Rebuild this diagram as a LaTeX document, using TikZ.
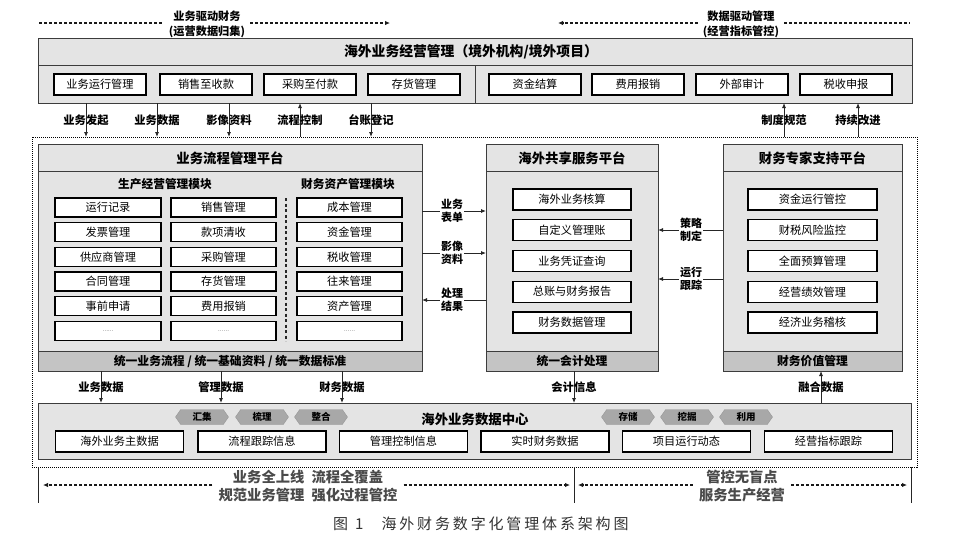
\documentclass[tikz,border=0pt]{standalone}
\usepackage{fontspec}
\setmainfont{Noto Sans CJK SC}
\usetikzlibrary{arrows.meta,shapes.symbols}
\definecolor{boxfill}{HTML}{E4E4E4}
\definecolor{bandfill}{HTML}{C4C4C4}
\definecolor{hexfill}{HTML}{A8A8A8}
\definecolor{framec}{HTML}{3C3C3C}
\definecolor{slogan}{HTML}{4A4A4A}
\definecolor{capc}{HTML}{333333}
\tikzset{
  frame/.style={draw=framec, line width=1pt, fill=boxfill, inner sep=0pt, outer sep=0pt},
  band/.style={draw=framec, line width=1pt, fill=bandfill, inner sep=0pt, outer sep=0pt, font=\fontsize{11.8}{13}\selectfont\bfseries},
  itembox/.style={draw=black, line width=1.3pt, fill=white, inner sep=0pt, font=\fontsize{11.2}{12}\selectfont},
  ptitle/.style={font=\fontsize{13.4}{15}\selectfont\bfseries, inner sep=0pt},
  subhead/.style={font=\fontsize{11.7}{13}\selectfont\bfseries, inner sep=0pt},
  lbl/.style={font=\fontsize{11.3}{12}\selectfont\bfseries, inner sep=1pt},
  slbl/.style={font=\fontsize{11}{13}\selectfont\bfseries, inner sep=1pt, align=center, fill=white},
  toplbl/.style={font=\fontsize{11.2}{15}\selectfont\bfseries, inner sep=5pt, align=center},
  slog/.style={font=\fontsize{14.3}{18}\selectfont\bfseries, text=slogan, inner sep=6pt, align=center},
  arr/.style={draw=black!85, line width=0.8pt, -{Latex[length=5pt,width=4pt]}},
  plainln/.style={draw=black!85, line width=0.8pt},
  dsh/.style={draw=black!90, line width=1.3pt, dash pattern=on 3pt off 2pt},
  dsharr/.style={dsh, -{Latex[length=5pt,width=4.5pt]}},
  dotframe/.style={draw=black, line width=1pt, dash pattern=on 1pt off 1pt, inner sep=0pt, outer sep=0pt},
  hexa/.style={shape=signal, signal to=east and west, signal pointer angle=110, fill=hexfill, draw=hexfill!90!black, line width=0.4pt, minimum width=53pt, minimum height=15pt, inner sep=0pt, font=\fontsize{9.5}{10}\selectfont\bfseries},
  sepln/.style={draw=framec, line width=1pt},
}
\begin{document}
\begin{tikzpicture}[x=1pt,y=-1pt]
\useasboundingbox (0,0) rectangle (953,552);

% ---------- top dashed headers ----------
\node[toplbl] (drvL) at (207,24) {业务驱动财务\\(运营数据归集)};
\coordinate (dL1) at (39,23);
\coordinate (dL2) at (390,23);
\draw[dsh] (dL1) -- (drvL.west |- dL1);
\draw[dsharr] (drvL.east |- dL1) -- (dL2);

\node[toplbl] (drvR) at (741,24) {数据驱动管理\\(经营指标管控)};
\coordinate (dR1) at (558,23);
\coordinate (dR2) at (910,23);
\draw[dsharr] (drvR.west |- dR1) -- (dR1);
\draw[dsh] (drvR.east |- dR1) -- (dR2);

% ---------- top management box ----------
\node[frame, anchor=north west, minimum width=874, minimum height=65] (top) at (38,38) {};
\coordinate (tline) at (475,65);
\draw[sepln] (top.west |- tline) -- (top.east |- tline);
\draw[sepln] (tline) -- (tline |- top.south);
\node[ptitle, font=\fontsize{13.8}{15}\selectfont\bfseries] (topT) at (471,52) {海外业务经营管理（境外机构/境外项目）};
\foreach \t/\x [count=\i] in {业务运行管理/100,销售至收款/206,采购至付款/310,存货管理/414,资金结算/535,费用报销/638,外部审计/742,税收申报/846}
  \node[itembox, minimum width=92, minimum height=21] (t\i) at (\x,84.5) {\t};

% ---------- outer dotted frame ----------
\node[dotframe, anchor=north west, minimum width=885, minimum height=330] (outer) at (32,137) {};

% arrows between top box and frame
\foreach \t/\x [count=\i] in {业务发起/86,业务数据/157,影像资料/229,台账登记/371}{
  \coordinate (ad\i) at (\x,120);
  \draw[arr] (top.south -| ad\i) -- (outer.north -| ad\i);
  \node[lbl] (adl\i) at (ad\i) {\t};
}
\foreach \t/\x [count=\i] in {流程控制/300,制度规范/784,持续改进/858}{
  \coordinate (au\i) at (\x,120);
  \draw[arr] (outer.north -| au\i) -- (top.south -| au\i);
  \node[lbl] (aul\i) at (au\i) {\t};
}

% ---------- business process platform ----------
\node[frame, anchor=north west, minimum width=384, minimum height=227] (bpm) at (38,144) {};
\coordinate (bpmL) at (38,171);
\draw[sepln] (bpmL) -- (bpm.east |- bpmL);
\node[ptitle] (bpmT) at (230,158) {业务流程管理平台};
\node[band, anchor=south west, minimum width=384, minimum height=20] (bpmB) at (bpm.south west) {统一业务流程 / 统一基础资料 / 统一数据标准};
\node[subhead] (sh1) at (165,184) {生产经营管理模块};
\node[subhead] (sh2) at (348,184) {财务资产管理模块};
\foreach \a/\b/\c [count=\i] in {运行记录/销售管理/成本管理,发票管理/款项清收/资金管理,供应商管理/采购管理/税收管理,合同管理/存货管理/往来管理,事前申请/费用报销/资产管理}{
  \pgfmathsetmacro\yy{207.5+24.7*(\i-1)}
  \node[itembox, minimum width=106, minimum height=19] (la\i) at (108,\yy) {\a};
  \node[itembox, minimum width=105, minimum height=19] (lb\i) at (223.5,\yy) {\b};
  \node[itembox, minimum width=105, minimum height=19] (lc\i) at (349.5,\yy) {\c};
}
\node[itembox, minimum width=106, minimum height=19, font=\fontsize{5}{6}\selectfont] (la6) at (108,331) {……};
\node[itembox, minimum width=105, minimum height=19, font=\fontsize{5}{6}\selectfont] (lb6) at (223.5,331) {……};
\node[itembox, minimum width=105, minimum height=19, font=\fontsize{5}{6}\selectfont] (lc6) at (349.5,331) {……};
\coordinate (dv1) at (286,198);
\coordinate (dv2) at (286,341);
\draw[black!85, line width=1.2pt, dash pattern=on 3pt off 2.5pt] (dv1) -- (dv2);

% ---------- shared service platform ----------
\node[frame, anchor=north west, minimum width=172, minimum height=227] (ssc) at (486,144) {};
\draw[sepln] (ssc.west |- bpmL) -- (ssc.east |- bpmL);
\node[ptitle] (sscT) at (572,158) {海外共享服务平台};
\node[band, anchor=south west, minimum width=172, minimum height=20] (sscB) at (ssc.south west) {统一会计处理};
\foreach \t [count=\i] in {海外业务核算,自定义管理账,业务凭证查询,总账与财务报告,财务数据管理}{
  \pgfmathsetmacro\yy{199.5+30.75*(\i-1)}
  \node[itembox, minimum width=118, minimum height=21] (m\i) at (572,\yy) {\t};
}

% ---------- expert support platform ----------
\node[frame, anchor=north west, minimum width=179, minimum height=227] (exp) at (723,144) {};
\draw[sepln] (exp.west |- bpmL) -- (exp.east |- bpmL);
\node[ptitle] (expT) at (812.5,158) {财务专家支持平台};
\node[band, anchor=south west, minimum width=179, minimum height=20] (expB) at (exp.south west) {财务价值管理};
\foreach \t [count=\i] in {资金运行管控,财税风险监控,全面预算管理,经营绩效管理,经济业务稽核}{
  \pgfmathsetmacro\yy{199.5+30.75*(\i-1)}
  \node[itembox, minimum width=129, minimum height=21] (r\i) at (812.5,\yy) {\t};
}

% ---------- side arrows ----------
\coordinate (s1) at (452,211);
\coordinate (s2) at (452,253);
\coordinate (s3) at (452,300);
\coordinate (s4) at (691,230);
\coordinate (s5) at (691,279);
\draw[arr] (bpm.east |- s1) -- (ssc.west |- s1);
\draw[arr] (bpm.east |- s2) -- (ssc.west |- s2);
\draw[arr] (ssc.west |- s3) -- (bpm.east |- s3);
\draw[arr] (exp.west |- s4) -- (ssc.east |- s4);
\draw[arr] (exp.west |- s5) -- (ssc.east |- s5);
\node[slbl] (sl1) at (s1) {业务\\表单};
\node[slbl] (sl2) at (s2) {影像\\资料};
\node[slbl] (sl3) at (s3) {处理\\结果};
\node[slbl] (sl4) at (s4) {策略\\制定};
\node[slbl] (sl5) at (s5) {运行\\跟踪};

% ---------- data center ----------
\node[frame, anchor=north west, minimum width=873, minimum height=56] (dc) at (38,403) {};
\node[ptitle] (dcT) at (475,419) {海外业务数据中心};
\foreach \t/\x [count=\i] in {汇集/202,梳理/262,整合/321,存储/628,挖掘/687,利用/746}
  \node[hexa] (h\i) at (\x,417) {\t};
\foreach \t/\x [count=\i] in {海外业务主数据/119.5,流程跟踪信息/262,管理控制信息/403.5,实时财务数据/545,项目运行动态/686.5,经营指标跟踪/828.5}
  \node[itembox, minimum width=128, minimum height=21] (d\i) at (\x,441.5) {\t};

% arrows platforms -> data center
\foreach \t/\x [count=\i] in {业务数据/101,管理数据/221,财务数据/342}{
  \coordinate (lo\i) at (\x,387);
  \draw[arr] (bpm.south -| lo\i) -- (dc.north -| lo\i);
  \node[lbl] (lol\i) at (lo\i) {\t};
}
\coordinate (lo4) at (574,387);
\draw[arr] (ssc.south -| lo4) -- (dc.north -| lo4);
\node[lbl] (lol4) at (lo4) {会计信息};
\coordinate (lo5) at (821,387);
\draw[arr] (dc.north -| lo5) -- (exp.south -| lo5);
\node[lbl] (lol5) at (lo5) {融合数据};

% ---------- bottom slogans ----------
\coordinate (v1) at (38,503);
\coordinate (v2) at (574,503);
\coordinate (v3) at (911,503);
\draw[plainln] (outer.south -| v1) -- (v1);
\draw[plainln] (outer.south -| v2) -- (v2);
\draw[plainln] (outer.south -| v3) -- (v3);

\node[slog] (sgL) at (308,486) {业务全上线\enspace 流程全覆盖\\规范业务管理\enspace 强化过程管控};
\coordinate (bL1) at (43,485);
\coordinate (bL2) at (570,485);
\draw[dsharr] (sgL.west |- bL1) -- (bL1);
\draw[dsharr] (sgL.east |- bL1) -- (bL2);

\node[slog] (sgR) at (742,486) {管控无盲点\\服务生产经营};
\coordinate (bR1) at (578,485);
\coordinate (bR2) at (907,485);
\draw[dsharr] (sgR.west |- bR1) -- (bR1);
\draw[dsharr] (sgR.east |- bR1) -- (bR2);

% ---------- caption ----------
\node[font=\fontsize{15}{16}\selectfont, text=capc, inner sep=0pt, anchor=west] (cap) at (333,524) {图\hspace{7pt}1\hspace{18pt}{\addfontfeatures{LetterSpace=19}海外财务数字化管理体系架构图}};
\end{tikzpicture}
\end{document}
